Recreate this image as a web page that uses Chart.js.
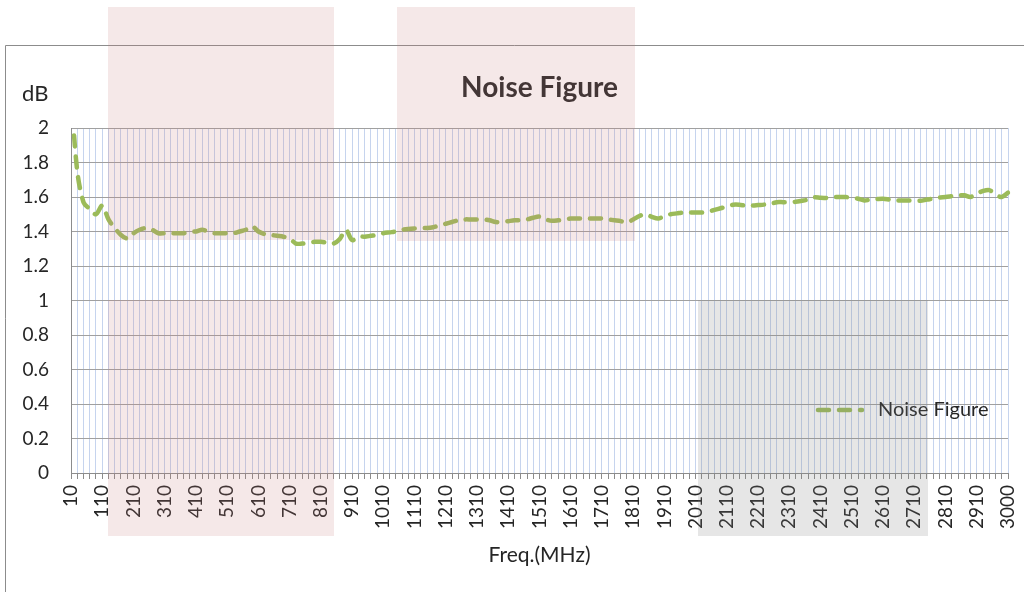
<!DOCTYPE html>
<html>
<head>
<meta charset="utf-8">
<title>Noise Figure</title>
<script src="https://cdn.jsdelivr.net/npm/chart.js@4.4.1/dist/chart.umd.min.js"></script>
<style>
  html, body { margin: 0; padding: 0; background: #fff; }
  #wrap { width: 1024px; height: 592px; }
</style>
</head>
<body>
<div id="wrap"><canvas id="nfChart" width="1024" height="592"></canvas></div>
<script>
// Frequency points (MHz)
const freqs = [
    10, 30, 50, 70, 90, 110, 130, 150, 170, 190,
    210, 230, 250, 270, 290, 310, 330, 350, 370, 390,
    410, 430, 450, 470, 490, 510, 530, 550, 570, 590,
    610, 630, 650, 670, 690, 710, 730, 750, 770, 790,
    810, 830, 850, 870, 890, 910, 930, 950, 970, 990,
    1010, 1030, 1050, 1070, 1090, 1110, 1130, 1150, 1170, 1190,
    1210, 1230, 1250, 1270, 1290, 1310, 1330, 1350, 1370, 1390,
    1410, 1430, 1450, 1470, 1490, 1510, 1530, 1550, 1570, 1590,
    1610, 1630, 1650, 1670, 1690, 1710, 1730, 1750, 1770, 1790,
    1810, 1830, 1850, 1870, 1890, 1910, 1930, 1950, 1970, 1990,
    2010, 2030, 2050, 2070, 2090, 2110, 2130, 2150, 2170, 2190,
    2210, 2230, 2250, 2270, 2290, 2310, 2330, 2350, 2370, 2390,
    2410, 2430, 2450, 2470, 2490, 2510, 2530, 2550, 2570, 2590,
    2610, 2630, 2650, 2670, 2690, 2710, 2730, 2750, 2770, 2790,
    2810, 2830, 2850, 2870, 2890, 2910, 2930, 2950, 2970, 2990,
    3000
];

// Noise figure (dB)
const noiseFigure = [
    2.2, 1.75, 1.57, 1.53, 1.50, 1.55, 1.47, 1.42, 1.38, 1.36,
    1.39, 1.41, 1.42, 1.41, 1.39, 1.39, 1.39, 1.39, 1.39, 1.40,
    1.40, 1.41, 1.40, 1.39, 1.39, 1.39, 1.39, 1.40, 1.41, 1.43,
    1.40, 1.385, 1.38, 1.375, 1.37, 1.36, 1.33, 1.33, 1.335, 1.34,
    1.34, 1.335, 1.33, 1.355, 1.41, 1.35, 1.37, 1.37, 1.375, 1.38,
    1.39, 1.395, 1.40, 1.41, 1.415, 1.418, 1.42, 1.42, 1.425, 1.435,
    1.445, 1.455, 1.465, 1.47, 1.47, 1.47, 1.47, 1.465, 1.455, 1.455,
    1.46, 1.465, 1.466, 1.47, 1.48, 1.486, 1.47, 1.462, 1.465, 1.47,
    1.475, 1.476, 1.476, 1.476, 1.476, 1.475, 1.47, 1.465, 1.46, 1.452,
    1.47, 1.49, 1.50, 1.485, 1.475, 1.49, 1.50, 1.505, 1.51, 1.51,
    1.51, 1.51, 1.515, 1.525, 1.535, 1.545, 1.555, 1.555, 1.55, 1.55,
    1.553, 1.556, 1.56, 1.57, 1.57, 1.57, 1.572, 1.578, 1.585, 1.598,
    1.595, 1.595, 1.60, 1.60, 1.60, 1.595, 1.59, 1.58, 1.585, 1.588,
    1.59, 1.585, 1.58, 1.58, 1.58, 1.58, 1.578, 1.585, 1.59, 1.597,
    1.60, 1.605, 1.61, 1.61, 1.60, 1.62, 1.635, 1.64, 1.615, 1.60,
    1.625
];

const seriesName = 'Noise Figure';
const chartTitle = 'Noise Figure';
const yUnit = 'dB';
const xTitle = 'Freq.(MHz)';

const FONT = 'Lato, "Open Sans", sans-serif';
const TEXT = '#262626';
const GREEN = '#9bbb59';
const DASH = [11, 10];

// shaded blocks that sit over the picture
const shades = [
    { x: 108, y: 7, w: 226, h: 233, c: 'rgba(200, 130, 130, 0.18)' },
    { x: 108, y: 300, w: 226, h: 236, c: 'rgba(200, 130, 130, 0.18)' },
    { x: 397, y: 7, w: 238, h: 234, c: 'rgba(200, 130, 130, 0.18)' },
    { x: 698, y: 300, w: 230, h: 236, c: 'rgba(128, 128, 128, 0.2)' }
];

const decorPlugin = {
    id: 'decor',
    beforeDraw: (chart) => {
        const { ctx } = chart;
        ctx.save();
        ctx.fillStyle = '#ffffff';
        ctx.fillRect(0, 0, chart.width, chart.height);
        // outer frame
        ctx.strokeStyle = '#8c8c8c';
        ctx.lineWidth = 1;
        ctx.beginPath();
        ctx.moveTo(5.5, chart.height);
        ctx.lineTo(5.5, 45.5);
        ctx.lineTo(chart.width, 45.5);
        ctx.stroke();
        ctx.restore();
    },
    afterDraw: (chart) => {
        const { ctx, chartArea } = chart;
        ctx.save();
        // title and unit
        ctx.fillStyle = TEXT;
        ctx.textAlign = 'center';
        ctx.textBaseline = 'middle';
        ctx.font = 'bold 28px ' + FONT;
        ctx.fillText(chartTitle, (chartArea.left + chartArea.right) / 2, 88);
        ctx.textAlign = 'left';
        ctx.font = '22px ' + FONT;
        ctx.fillText(yUnit, 22, 94);

        // legend inside plot
        const ly = chart.scales.y.getPixelForValue(0.4) + 6;
        const lx = chartArea.right - 193;
        ctx.strokeStyle = GREEN;
        ctx.lineWidth = 4.5;
        ctx.lineCap = 'round';
        ctx.setLineDash(DASH);
        ctx.beginPath();
        ctx.moveTo(lx + 3, ly);
        ctx.lineTo(lx + 47, ly);
        ctx.stroke();
        ctx.setLineDash([]);
        ctx.fillStyle = TEXT;
        ctx.font = '20px ' + FONT;
        ctx.textAlign = 'left';
        ctx.fillText(seriesName, lx + 63, ly);

        shades.forEach(s => {
            ctx.fillStyle = s.c;
            ctx.fillRect(s.x, s.y, s.w, s.h);
        });
        ctx.restore();
    }
};

const ctx = document.getElementById('nfChart').getContext('2d');

const chart = new Chart(ctx, {
    type: 'line',
    data: {
        labels: freqs,
        datasets: [{
            label: seriesName,
            data: noiseFigure,
            borderColor: GREEN,
            backgroundColor: GREEN,
            borderWidth: 4.5,
            borderDash: DASH,
            borderCapStyle: 'round',
            tension: 0.3,
            pointRadius: 0,
            fill: false
        }]
    },
    options: {
        responsive: false,
        animation: false,
        layout: {
            padding: { left: 6, right: 16, top: 128, bottom: 0 }
        },
        scales: {
            x: {
                grid: {
                    color: '#c6d4ee',
                    tickColor: '#8c8c8c',
                    tickLength: 6
                },
                border: { color: '#8c8c8c' },
                ticks: {
                    autoSkip: false,
                    minRotation: 90,
                    maxRotation: 90,
                    padding: 6,
                    color: TEXT,
                    font: { family: FONT, size: 19 },
                    callback: function (val, idx) {
                        return idx % 5 === 0 ? this.getLabelForValue(val) : '';
                    }
                },
                title: {
                    display: true,
                    text: xTitle,
                    color: TEXT,
                    font: { family: FONT, size: 21 },
                    padding: { top: 0, bottom: 24 }
                },
                afterFit: (scale) => {
                    scale.height = 119;
                    scale.paddingRight = 0;
                    scale.paddingLeft = 0;
                }
            },
            y: {
                min: 0,
                max: 2,
                ticks: {
                    stepSize: 0.2,
                    padding: 22,
                    color: TEXT,
                    font: { family: FONT, size: 19 },
                    callback: (val) => String(Number(val.toFixed(1)))
                },
                grid: {
                    color: '#a0a0a0',
                    drawTicks: false
                },
                border: { color: '#8c8c8c' },
                afterFit: (scale) => { scale.width = 65; }
            }
        },
        plugins: {
            legend: { display: false },
            title: { display: false },
            tooltip: { enabled: false }
        }
    },
    plugins: [decorPlugin]
});
</script>
</body>
</html>
